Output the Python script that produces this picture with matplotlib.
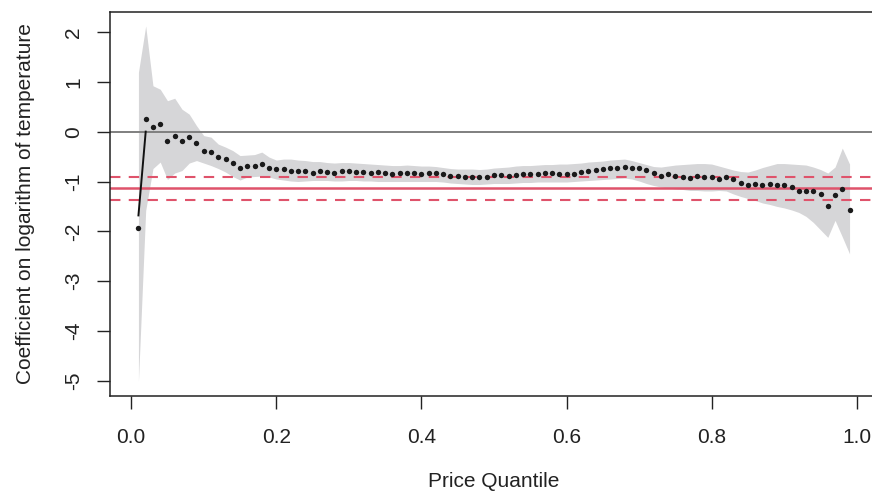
import matplotlib
matplotlib.use("Agg")
import matplotlib.pyplot as plt
import numpy as np

quantiles = [round(0.01 * i, 2) for i in range(1, 100)]

coef = [
    -1.93, 0.26, 0.09, 0.15, -0.18, -0.08, -0.18, -0.11, -0.22, -0.38,
    -0.41, -0.51, -0.54, -0.62, -0.73, -0.69, -0.68, -0.65, -0.73, -0.75,
    -0.75, -0.79, -0.79, -0.78, -0.82, -0.79, -0.80, -0.83, -0.78, -0.78,
    -0.81, -0.81, -0.83, -0.81, -0.83, -0.85, -0.83, -0.83, -0.83, -0.85,
    -0.83, -0.82, -0.85, -0.89, -0.89, -0.90, -0.90, -0.91, -0.90, -0.87,
    -0.87, -0.89, -0.86, -0.85, -0.85, -0.85, -0.83, -0.83, -0.84, -0.85,
    -0.85, -0.81, -0.78, -0.77, -0.74, -0.72, -0.72, -0.71, -0.72, -0.73,
    -0.77, -0.83, -0.88, -0.85, -0.88, -0.91, -0.93, -0.89, -0.91, -0.91,
    -0.94, -0.91, -0.95, -1.03, -1.07, -1.05, -1.08, -1.04, -1.06, -1.07,
    -1.11, -1.19, -1.19, -1.20, -1.25, -1.49, -1.27, -1.16, -1.58,
]

upper = [
    1.19, 2.12, 0.92, 0.85, 0.62, 0.67, 0.45, 0.35, 0.12, -0.08,
    -0.11, -0.25, -0.31, -0.38, -0.48, -0.47, -0.46, -0.41, -0.51, -0.57,
    -0.55, -0.55, -0.57, -0.58, -0.60, -0.60, -0.62, -0.63, -0.62, -0.62,
    -0.63, -0.64, -0.65, -0.66, -0.67, -0.68, -0.68, -0.67, -0.68, -0.69,
    -0.69, -0.70, -0.72, -0.74, -0.75, -0.75, -0.75, -0.76, -0.75, -0.73,
    -0.72, -0.71, -0.69, -0.68, -0.68, -0.67, -0.66, -0.66, -0.65, -0.65,
    -0.64, -0.63, -0.61, -0.60, -0.59, -0.57, -0.56, -0.55, -0.58, -0.62,
    -0.66, -0.70, -0.71, -0.69, -0.67, -0.66, -0.65, -0.64, -0.64, -0.65,
    -0.69, -0.73, -0.77, -0.80, -0.81, -0.77, -0.72, -0.68, -0.64, -0.64,
    -0.65, -0.66, -0.67, -0.71, -0.76, -0.83, -0.71, -0.33, -0.65,
]

lower = [
    -5.01, -1.58, -0.74, -0.61, -0.96, -0.83, -0.78, -0.63, -0.58, -0.63,
    -0.68, -0.74, -0.81, -0.90, -0.97, -0.91, -0.90, -0.89, -0.91, -0.95,
    -0.97, -0.99, -1.00, -0.99, -0.98, -0.98, -0.98, -0.99, -0.99, -0.98,
    -0.98, -0.99, -0.99, -1.00, -1.00, -1.00, -1.00, -1.00, -1.00, -1.00,
    -1.00, -1.00, -1.01, -1.03, -1.04, -1.05, -1.06, -1.06, -1.05, -1.04,
    -1.04, -1.04, -1.03, -1.02, -1.02, -1.01, -1.01, -1.01, -1.01, -1.01,
    -1.00, -0.99, -0.98, -0.97, -0.96, -0.95, -0.94, -0.93, -0.95, -0.99,
    -1.04, -1.08, -1.11, -1.13, -1.15, -1.16, -1.18, -1.18, -1.19, -1.19,
    -1.18, -1.19, -1.25, -1.30, -1.34, -1.38, -1.43, -1.46, -1.50, -1.53,
    -1.57, -1.62, -1.70, -1.82, -1.97, -2.12, -1.78, -2.11, -2.45,
]

segment_x = [0.01, 0.02]
segment_y = [-1.68, 0.0]

mean_coef = -1.14
ci_low = -1.365
ci_high = -0.915

xticks = [0.0, 0.2, 0.4, 0.6, 0.8, 1.0]
xticklabels = ["0.0", "0.2", "0.4", "0.6", "0.8", "1.0"]
yticks = [2, 1, 0, -1, -2, -3, -4, -5]
yticklabels = ["2", "1", "0", "-1", "-2", "-3", "-4", "-5"]

plt.rcParams['font.family'] = ['Liberation Sans', 'DejaVu Sans']

W, H = 872, 495
fig = plt.figure(figsize=(W / 100, H / 100), dpi=100)
left, right, top, bottom = 110, 878, 11.7, 395.7
ax = fig.add_axes([left / W, (H - bottom) / H, (right - left) / W, (bottom - top) / H])

red = "#DF536B"
ax.fill_between(quantiles, lower, upper, color="#d6d6d8", linewidth=0, zorder=1)
ax.axhline(0, color="#7f7f7f", lw=1.4, zorder=2)
ax.axhline(mean_coef, color=red, lw=1.8, zorder=2)
ax.axhline(ci_low, color=red, lw=1.5, ls=(0, (5, 4)), zorder=2)
ax.axhline(ci_high, color=red, lw=1.5, ls=(0, (5, 4)), zorder=2)
ax.plot(segment_x, segment_y, color="#111111", lw=1.4, zorder=3)
ax.scatter(quantiles, coef, s=15, color="#1a1a1a", linewidths=0, zorder=4)

ax.set_xlim(-0.0292, 1.0292)
ax.set_ylim(-5.295, 2.405)

ax.set_xticks(xticks)
ax.set_xticklabels(xticklabels)
ax.set_yticks(yticks)
ax.set_yticklabels(yticklabels, rotation=90, va="center")

for s in ax.spines.values():
    s.set_color("#222222")
    s.set_linewidth(1.1)

ax.tick_params(axis="both", direction="out", length=9.5, width=1.0, color="#222222",
               labelsize=15, labelcolor="#222222")
ax.tick_params(axis="x", pad=14)
ax.tick_params(axis="y", pad=10)

ax.set_xlabel("Price Quantile", fontsize=15, color="#222222", labelpad=18)
ax.set_ylabel("Coefficient on logarithm of temperature", fontsize=15, color="#222222", labelpad=21)

fig.savefig("out.png", dpi=100)
